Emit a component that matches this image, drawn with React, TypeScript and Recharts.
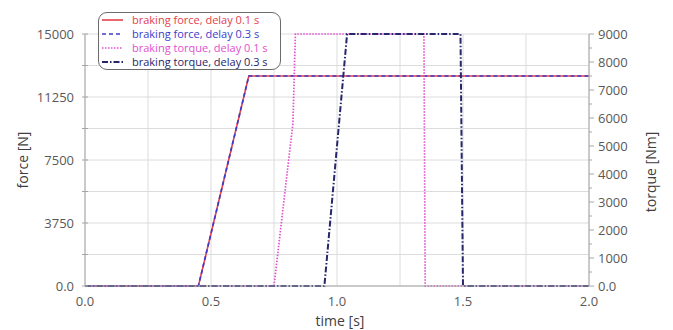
import React from 'react';
import { LineChart, Line, XAxis, YAxis, CartesianGrid } from 'recharts';

// Time axis (s)
const timeTicks = [0, 0.25, 0.5, 0.75, 1, 1.25, 1.5, 1.75, 2];
const timeLabels = ['0.0', '', '0.5', '', '1.0', '', '1.5', '', '2.0'];

// Force axis (N): labelled every 3750, minor ticks/grid halfway
const forceTicks = [0, 1875, 3750, 5625, 7500, 9375, 11250, 13125, 15000];
const forceLabels = ['0.0', '', '3750', '', '7500', '', '11250', '', '15000'];

// Torque axis (Nm): labelled every 1000, minor ticks halfway
const torqueTicks = [0, 500, 1000, 1500, 2000, 2500, 3000, 3500, 4000, 4500, 5000, 5500, 6000, 6500, 7000, 7500, 8000, 8500, 9000];
const torqueLabels = ['0.0', '', '1000', '', '2000', '', '3000', '', '4000', '', '5000', '', '6000', '', '7000', '', '8000', '', '9000'];

// braking force, delay 0.1 s
const forceTime01 = [0, 0.45, 0.65, 2.0];
const forceValue01 = [0, 0, 12500, 12500];

// braking force, delay 0.3 s
const forceTime03 = [0, 0.45, 0.65, 2.0];
const forceValue03 = [0, 0, 12500, 12500];

// braking torque, delay 0.1 s
const torqueTime01 = [0, 0.75, 0.825, 0.835, 1.345, 1.35, 2.0];
const torqueValue01 = [0, 0, 5800, 9000, 9000, 0, 0];

// braking torque, delay 0.3 s
const torqueTime03 = [0, 0.95, 1.04, 1.49, 1.5, 2.0];
const torqueValue03 = [0, 0, 9000, 9000, 0, 0];

const toPoints = (t: number[], v: number[]) => t.map((x, i) => ({ t: x, v: v[i] }));

const series = [
  { name: 'braking force, delay 0.1 s', data: toPoints(forceTime01, forceValue01), axis: 'force', color: '#e5404c', dash: undefined as string | undefined, width: 1.6 },
  { name: 'braking force, delay 0.3 s', data: toPoints(forceTime03, forceValue03), axis: 'force', color: '#3a3ccc', dash: '4 3', width: 1.7 },
  { name: 'braking torque, delay 0.1 s', data: toPoints(torqueTime01, torqueValue01), axis: 'torque', color: '#e24fcf', dash: '1.5 1.5', width: 1.7 },
  { name: 'braking torque, delay 0.3 s', data: toPoints(torqueTime03, torqueValue03), axis: 'torque', color: '#26266c', dash: '6 2 1.5 2', width: 2 },
];

const FONT = '"Open Sans", sans-serif';
const TICK_COLOR = '#595959';
const AXIS_COLOR = '#a6a6a6';

const XTick = (props: any) => {
  const { x, y, index } = props;
  const label = timeLabels[index];
  if (!label) return null;
  return (
    <text x={x} y={y + 20} textAnchor="middle" fontFamily={FONT} fontSize={13} fill={TICK_COLOR}>
      {label}
    </text>
  );
};

const LeftTick = (props: any) => {
  const { x, y, index } = props;
  const label = forceLabels[index];
  return (
    <g>
      <line x1={x - 3} x2={x + 3} y1={y} y2={y} stroke={AXIS_COLOR} strokeWidth={1} />
      {label && (
        <text x={x - 11} y={y + 4.5} textAnchor="end" fontFamily={FONT} fontSize={13} fill={TICK_COLOR}>
          {label}
        </text>
      )}
    </g>
  );
};

const RightTick = (props: any) => {
  const { x, y, index } = props;
  const label = torqueLabels[index];
  return (
    <g>
      <line x1={x} x2={x + (label ? 5 : 3)} y1={y} y2={y} stroke={AXIS_COLOR} strokeWidth={1} />
      {label && (
        <text x={x + 9} y={y + 4.5} textAnchor="start" fontFamily={FONT} fontSize={13} fill={TICK_COLOR}>
          {label}
        </text>
      )}
    </g>
  );
};

const LegendBox = () => (
  <div
    style={{
      position: 'absolute',
      left: 98,
      top: 12,
      width: 183,
      height: 58,
      boxSizing: 'border-box',
      border: '1.5px solid #6b6b6b',
      borderRadius: 9,
      background: '#ffffff',
      paddingTop: 0,
    }}
  >
    {series.map((s) => (
      <div key={s.name} style={{ display: 'flex', alignItems: 'center', height: 14, marginLeft: 3 }}>
        <svg width={22} height={6} style={{ display: 'block' }}>
          <line x1={0} x2={21} y1={3} y2={3} stroke={s.color} strokeWidth={s.width} strokeDasharray={s.dash} />
        </svg>
        <span
          style={{
            marginLeft: 8,
            fontFamily: FONT,
            fontSize: 11,
            color: s.color,
            whiteSpace: 'nowrap',
            lineHeight: '14px',
          }}
        >
          {s.name}
        </span>
      </div>
    ))}
  </div>
);

export default function App() {
  return (
    <div style={{ position: 'absolute', left: 0, top: 0, width: 673, height: 330, background: '#ffffff' }}>
      <LineChart width={673} height={330} margin={{ top: 34, right: 0, bottom: 0, left: 0 }}>
        <CartesianGrid stroke="#dcdcdc" strokeWidth={1} yAxisId="force" />
        <XAxis
          dataKey="t"
          type="number"
          domain={[0, 2]}
          ticks={timeTicks}
          interval={0}
          height={44}
          tick={<XTick />}
          tickLine={false}
          tickSize={0}
          tickMargin={0}
          axisLine={{ stroke: AXIS_COLOR }}
          allowDuplicatedCategory={false}
        />
        <YAxis
          yAxisId="force"
          orientation="left"
          type="number"
          domain={[0, 15000]}
          ticks={forceTicks}
          interval={0}
          width={85}
          tick={<LeftTick />}
          tickLine={false}
          tickSize={0}
          tickMargin={0}
          axisLine={{ stroke: AXIS_COLOR }}
        />
        <YAxis
          yAxisId="torque"
          orientation="right"
          type="number"
          domain={[0, 9000]}
          ticks={torqueTicks}
          interval={0}
          width={84}
          tick={<RightTick />}
          tickLine={false}
          tickSize={0}
          tickMargin={0}
          axisLine={{ stroke: AXIS_COLOR }}
        />
        {series.map((s) => (
          <Line
            key={s.name}
            name={s.name}
            data={s.data}
            dataKey="v"
            yAxisId={s.axis}
            type="linear"
            stroke={s.color}
            strokeWidth={s.width}
            strokeDasharray={s.dash}
            dot={false}
            activeDot={false}
            isAnimationActive={false}
          />
        ))}
        <text x={22} y={160} transform="rotate(-90 22 160)" textAnchor="middle" dominantBaseline="central" fontFamily={FONT} fontSize={14} fill="#404040">
          force [N]
        </text>
        <text x={650} y={172} transform="rotate(-90 650 172)" textAnchor="middle" dominantBaseline="central" fontFamily={FONT} fontSize={14} fill="#404040">
          torque [Nm]
        </text>
        <text x={340} y={326} textAnchor="middle" fontFamily={FONT} fontSize={14} fill="#404040">
          time [s]
        </text>
      </LineChart>
      <LegendBox />
    </div>
  );
}
